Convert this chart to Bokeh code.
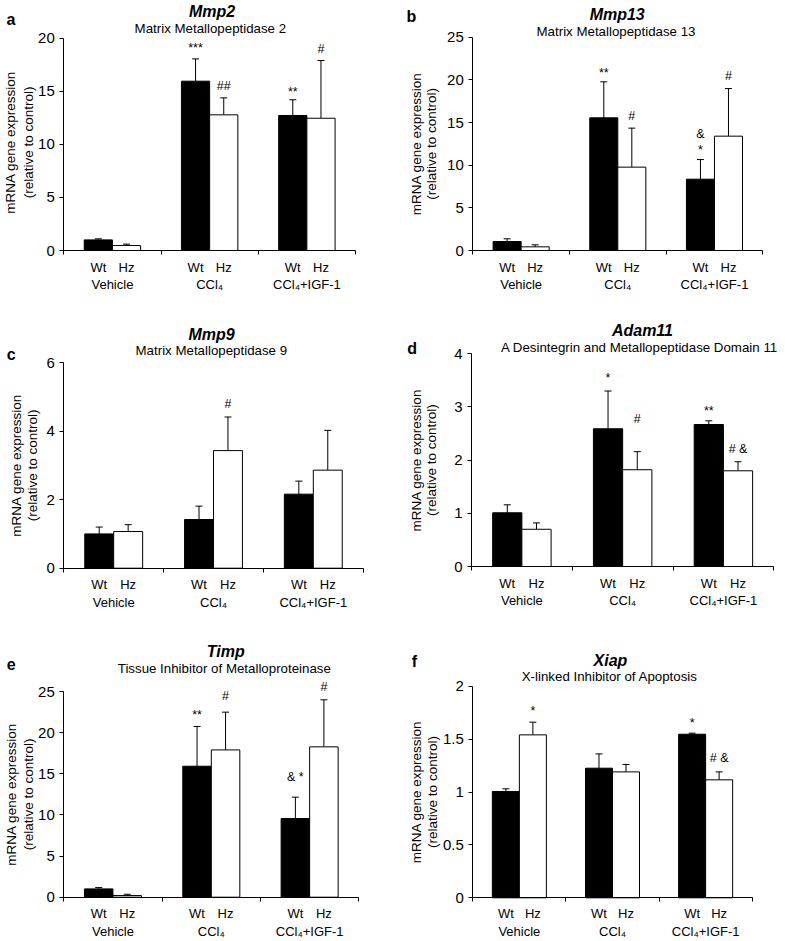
from bokeh.plotting import figure
from bokeh.models import Range1d, FixedTicker, LinearAxis, Label, ColumnDataSource
from bokeh.layouts import row, column
from bokeh.embed import file_html
from bokeh.resources import INLINE

FONT = "Liberation Sans"

groups = ["Vehicle", "CCl\u2084", "CCl\u2084+IGF-1"]
genotypes = ["Wt", "Hz"]
y_title = ["mRNA gene expression", "(relative to control)"]

# (a) Mmp2
mmp2_wt = [1.00, 15.95, 12.72]
mmp2_wt_sem = [0.10, 2.10, 1.48]
mmp2_hz = [0.47, 12.78, 12.46]
mmp2_hz_sem = [0.13, 1.60, 5.44]
mmp2_marks = [(1, "Wt", "***", 19.3), (1, "Hz", "##", 15.5), (2, "Wt", "**", 15.2), (2, "Hz", "#", 19.0)]
mmp2_yticks = [0, 5, 10, 15, 20]
mmp2_ylabels = ["0", "5", "10", "15", "20"]

# (b) Mmp13
mmp13_wt = [1.05, 15.55, 8.36]
mmp13_wt_sem = [0.32, 4.22, 2.30]
mmp13_hz = [0.43, 9.77, 13.40]
mmp13_hz_sem = [0.23, 4.57, 5.58]
mmp13_marks = [(1, "Wt", "**", 21.1), (1, "Hz", "#", 15.8), (2, "Wt", "&", 13.7), (2, "Wt", "*", 12.1), (2, "Hz", "#", 20.4)]
mmp13_yticks = [0, 5, 10, 15, 20, 25]
mmp13_ylabels = ["0", "5", "10", "15", "20", "25"]

# (c) Mmp9
mmp9_wt = [1.00, 1.42, 2.16]
mmp9_wt_sem = [0.20, 0.39, 0.38]
mmp9_hz = [1.07, 3.43, 2.86]
mmp9_hz_sem = [0.20, 0.98, 1.16]
mmp9_marks = [(1, "Hz", "#", 4.78)]
mmp9_yticks = [0, 2, 4, 6]
mmp9_ylabels = ["0", "2", "4", "6"]

# (d) Adam11
adam11_wt = [1.01, 2.59, 2.67]
adam11_wt_sem = [0.15, 0.71, 0.07]
adam11_hz = [0.70, 1.82, 1.80]
adam11_hz_sem = [0.12, 0.34, 0.17]
adam11_marks = [(1, "Wt", "*", 3.59), (1, "Hz", "#", 2.78), (2, "Wt", "**", 2.97), (2, "Hz", "# &", 2.21)]
adam11_yticks = [0, 1, 2, 3, 4]
adam11_ylabels = ["0", "1", "2", "3", "4"]

# (e) Timp
timp_wt = [1.01, 15.92, 9.56]
timp_wt_sem = [0.16, 4.83, 2.60]
timp_hz = [0.20, 17.90, 18.27]
timp_hz_sem = [0.16, 4.59, 5.72]
timp_marks = [(1, "Wt", "**", 22.4), (1, "Hz", "#", 24.4), (2, "Wt", "& *", 14.6), (2, "Hz", "#", 25.6)]
timp_yticks = [0, 5, 10, 15, 20, 25]
timp_ylabels = ["0", "5", "10", "15", "20", "25"]

# (f) Xiap
xiap_wt = [1.005, 1.225, 1.546]
xiap_wt_sem = [0.025, 0.135, 0.010]
xiap_hz = [1.54, 1.19, 1.115]
xiap_hz_sem = [0.12, 0.07, 0.075]
xiap_marks = [(0, "Hz", "*", 1.79), (2, "Wt", "*", 1.68), (2, "Hz", "# &", 1.32)]
xiap_yticks = [0, 0.5, 1, 1.5, 2]
xiap_ylabels = ["0", "0.5", "1", "1.5", "2"]

BAR_W = 0.29
OFFS = {"Wt": -BAR_W / 2, "Hz": BAR_W / 2}


def lab(x, y, text, size, dx=0, dy=0, style="normal", angle=0, align="center"):
    return Label(x=x, y=y, x_offset=dx, y_offset=dy, text=text, text_font=FONT,
                 text_font_size=size, text_font_style=style, text_color="black",
                 text_align=align, text_baseline="middle", angle=angle, angle_units="deg")


def make_panel(letter, gene, name, wt, wt_sem, hz, hz_sem, marks, yticks, ylabels, lay):
    # box: figure width/height, plot-area left/top offset and size (pixels)
    W, H, L, T, FW, FH = lay["box"]
    ymax = yticks[-1]
    ngroups = len(groups)
    kx = FW / ngroups
    ky = FH / ymax
    p = figure(width=W, height=H,
               x_range=Range1d(-L / kx, (W - L) / kx),
               y_range=Range1d(-(H - T - FH) / ky, ymax + T / ky),
               x_axis_type=None, y_axis_type=None, tools="", toolbar_location=None,
               output_backend="svg", min_border=0, title=None)
    p.outline_line_color = None
    p.background_fill_color = "white"
    p.border_fill_color = "white"

    centers = [i + 0.5 for i in range(ngroups)]
    xw = [c + OFFS["Wt"] for c in centers]
    xh = [c + OFFS["Hz"] for c in centers]

    # y axis
    yax = LinearAxis(ticker=FixedTicker(ticks=yticks), fixed_location=0, bounds=(0, ymax),
                     major_label_overrides={t: s for t, s in zip(yticks, ylabels)})
    yax.axis_line_color = "black"
    yax.major_tick_line_color = "black"
    yax.major_tick_out = 4
    yax.major_tick_in = 0
    yax.minor_tick_line_color = None
    yax.major_label_standoff = 5
    yax.major_label_text_font = FONT
    yax.major_label_text_font_size = "15px"
    yax.major_label_text_color = "black"
    p.add_layout(yax, "left")

    # x axis: genotype labels under the bars, tick marks between groups
    xticks = sorted(xw + xh)
    xlabels = {x: "Wt" for x in xw}
    xlabels.update({x: "Hz" for x in xh})
    xax = LinearAxis(ticker=FixedTicker(ticks=xticks, minor_ticks=list(range(ngroups + 1))),
                     fixed_location=0, bounds=(0, ngroups), major_label_overrides=xlabels)
    xax.axis_line_color = "black"
    xax.major_tick_line_color = None
    xax.major_tick_out = 0
    xax.major_tick_in = 0
    xax.minor_tick_line_color = "black"
    xax.minor_tick_out = 4
    xax.minor_tick_in = 0
    xax.major_label_standoff = lay["xstand"]
    xax.major_label_text_font = FONT
    xax.major_label_text_font_size = "13px"
    xax.major_label_text_color = "black"
    p.add_layout(xax, "below")

    src_w = ColumnDataSource(dict(x=xw, top=wt, err=[m + s for m, s in zip(wt, wt_sem)]))
    src_h = ColumnDataSource(dict(x=xh, top=hz, err=[m + s for m, s in zip(hz, hz_sem)]))

    for src, fill in ((src_w, "black"), (src_h, "white")):
        p.segment(x0="x", y0="top", x1="x", y1="err", source=src, line_color="black", line_width=1)
        p.scatter(x="x", y="err", source=src, marker="dash", size=7, line_color="black", line_width=1)
        p.vbar(x="x", top="top", bottom=0, width=BAR_W, source=src, fill_color=fill,
               line_color="black", line_width=1)

    # significance marks
    for gi, gt, txt, yv in marks:
        dy = -2.5 if set(txt) == {"*"} else 0
        p.add_layout(lab(centers[gi] + OFFS[gt], yv, txt, "12.5px", dy=dy))

    # treatment group labels
    for c, g in zip(centers, groups):
        p.add_layout(lab(c, 0, g, "13px", dy=-lay["grp"]))

    # y title (two lines)
    y1, y2 = lay["yl"]
    yc = lay.get("ylc", 0)
    p.add_layout(lab(0, ymax / 2, y_title[0], "13.5px", dx=y1, dy=yc, angle=90))
    p.add_layout(lab(0, ymax / 2, y_title[1], "13.5px", dx=y2, dy=yc, angle=90))

    # titles and panel letter
    mx, my = lay["main"]
    sx, sy = lay["sub"]
    lx, ly = lay["letter"]
    p.add_layout(lab(ngroups / 2, ymax, gene, "16px", dx=mx, dy=my, style="bold italic"))
    p.add_layout(lab(ngroups / 2, ymax, name, "13.3px", dx=sx, dy=sy))
    p.add_layout(lab(0, ymax, letter, "16px", dx=lx, dy=ly, style="bold"))
    return p


lay_a = dict(box=(390, 310, 63.3, 37.7, 291.7, 212.3), main=(2.4, 26.4), sub=(0.7, 10), letter=(-52.8, 18.7),
             yl=(-53.3, -35), ylc=2, xstand=5, grp=34.2)
lay_b = dict(box=(394, 310, 82.3, 36.7, 290, 213.3), main=(-0.6, 23), sub=(-1.8, 6), letter=(-61.3, 20.7),
             yl=(-56.5, -41.8), xstand=5, grp=34.2)
lay_c = dict(box=(390, 310, 63.3, 52, 299.4, 205.7), main=(-2, 28.2), sub=(-2.2, 11.7), letter=(-52.5, 8),
             yl=(-47.3, -31.3), xstand=5, grp=34.2)
lay_d = dict(box=(394, 310, 81, 43.3, 302.3, 212.7), main=(19.8, 23.3), sub=(16.8, 6), letter=(-59.3, 5.8),
             yl=(-55.2, -40.2), xstand=5, grp=34.2)
lay_e = dict(box=(390, 320, 63.3, 71, 295, 205.7), main=(14.5, 40), sub=(13, 23), letter=(-52.5, 27.5),
             yl=(-52.5, -35), xstand=5, grp=34.3)
lay_f = dict(box=(394, 320, 82.3, 65.7, 279.4, 211.6), main=(-2, 25.7), sub=(-2.8, 10), letter=(-58.3, 24.7),
             yl=(-56.3, -40.3), xstand=4, grp=34)

pa = make_panel("a", "Mmp2", "Matrix Metallopeptidase 2", mmp2_wt, mmp2_wt_sem, mmp2_hz, mmp2_hz_sem,
                mmp2_marks, mmp2_yticks, mmp2_ylabels, lay_a)
pb = make_panel("b", "Mmp13", "Matrix Metallopeptidase 13", mmp13_wt, mmp13_wt_sem, mmp13_hz, mmp13_hz_sem,
                mmp13_marks, mmp13_yticks, mmp13_ylabels, lay_b)
pc = make_panel("c", "Mmp9", "Matrix Metallopeptidase 9", mmp9_wt, mmp9_wt_sem, mmp9_hz, mmp9_hz_sem,
                mmp9_marks, mmp9_yticks, mmp9_ylabels, lay_c)
pd = make_panel("d", "Adam11", "A Desintegrin and Metallopeptidase Domain 11", adam11_wt, adam11_wt_sem,
                adam11_hz, adam11_hz_sem, adam11_marks, adam11_yticks, adam11_ylabels, lay_d)
pe = make_panel("e", "Timp", "Tissue Inhibitor of Metalloproteinase", timp_wt, timp_wt_sem, timp_hz, timp_hz_sem,
                timp_marks, timp_yticks, timp_ylabels, lay_e)
pf = make_panel("f", "Xiap", "X-linked Inhibitor of Apoptosis", xiap_wt, xiap_wt_sem, xiap_hz, xiap_hz_sem,
                xiap_marks, xiap_yticks, xiap_ylabels, lay_f)

layout = column(row(pa, pb), row(pc, pd), row(pe, pf))
open("out.html", "w").write(file_html(layout, INLINE))
